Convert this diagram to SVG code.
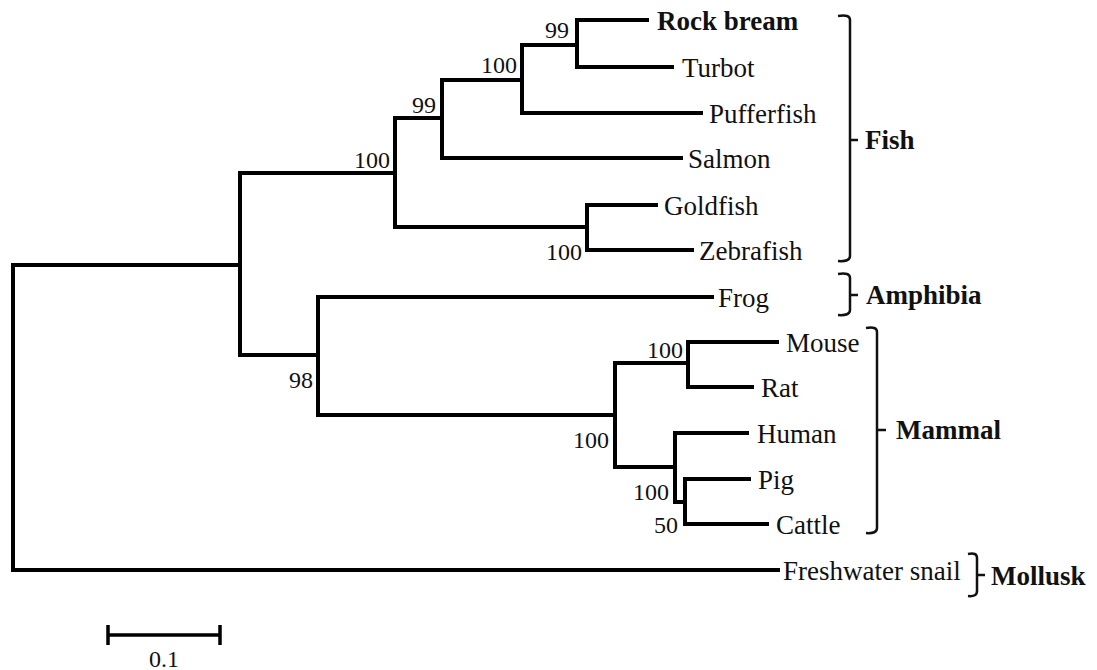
<svg xmlns="http://www.w3.org/2000/svg" width="1097" height="670" viewBox="0 0 1097 670">
<style>
.br{fill:none;stroke:#000;stroke-width:4;stroke-linejoin:miter;stroke-linecap:square}
.bk{fill:none;stroke:#111;stroke-width:2.5;stroke-linejoin:round}
.lf{font-family:"Liberation Serif","Times New Roman",serif;font-size:27px;fill:#111}
.gp{font-family:"Liberation Serif","Times New Roman",serif;font-size:27px;font-weight:bold;fill:#111}
.bs{font-family:"Liberation Serif","Times New Roman",serif;font-size:24px;fill:#111;text-anchor:end}
</style>
<rect width="1097" height="670" fill="#fff"/>
<g id="connectors">
<path class="br" d="M240 265 H13 V570 H778"/>
<path class="br" d="M395 173 H240 V355 H318"/>
<path class="br" d="M442 118 H395 V227 H587"/>
<path class="br" d="M522 80 H442 V158 H681"/>
<path class="br" d="M577 45 H522 V113 H701"/>
<path class="br" d="M647 20 H577 V67 H672"/>
<path class="br" d="M656 205 H587 V250 H692"/>
<path class="br" d="M712 297 H318 V415 H615"/>
<path class="br" d="M688 363 H615 V467 H675"/>
<path class="br" d="M777 342 H688 V387 H752"/>
<path class="br" d="M747 433 H675 V502 H685"/>
<path class="br" d="M749 479 H685 V524 H767"/>
</g>
<g id="node-rockbream"><text class="gp" x="657" y="30">Rock bream</text></g>
<g id="node-turbot"><text class="lf" x="682" y="77">Turbot</text></g>
<g id="node-pufferfish"><text class="lf" x="709" y="123">Pufferfish</text></g>
<g id="node-salmon"><text class="lf" x="688" y="168">Salmon</text></g>
<g id="node-goldfish"><text class="lf" x="664" y="215">Goldfish</text></g>
<g id="node-zebrafish"><text class="lf" x="699" y="260">Zebrafish</text></g>
<g id="node-frog"><text class="lf" x="718" y="307">Frog</text></g>
<g id="node-mouse"><text class="lf" x="786" y="352">Mouse</text></g>
<g id="node-rat"><text class="lf" x="761" y="397">Rat</text></g>
<g id="node-human"><text class="lf" x="757" y="443">Human</text></g>
<g id="node-pig"><text class="lf" x="758" y="489">Pig</text></g>
<g id="node-cattle"><text class="lf" x="776" y="534">Cattle</text></g>
<g id="node-snail"><text class="lf" x="783" y="580">Freshwater snail</text></g>
<g id="bootstrap">
<text class="bs" x="569" y="38">99</text>
<text class="bs" x="517" y="73">100</text>
<text class="bs" x="436" y="113">99</text>
<text class="bs" x="390" y="168">100</text>
<text class="bs" x="582" y="260">100</text>
<text class="bs" x="313" y="388">98</text>
<text class="bs" x="683" y="358">100</text>
<text class="bs" x="609" y="448">100</text>
<text class="bs" x="669" y="500">100</text>
<text class="bs" x="678" y="533">50</text>
</g>
<g id="group-fish">
<path class="bk" d="M838 16 Q850 14 850 20 V256 Q850 262 838 261 M850 140 H858"/>
<text class="gp" x="865" y="149">Fish</text>
</g>
<g id="group-amphibia">
<path class="bk" d="M838 274 Q850 272 850 278 V310 Q850 316 838 315 M850 295 H858"/>
<text class="gp" x="866" y="304">Amphibia</text>
</g>
<g id="group-mammal">
<path class="bk" d="M866 328 Q877 326 877 332 V528 Q877 534 866 533 M877 430 H886"/>
<text class="gp" x="896" y="439">Mammal</text>
</g>
<g id="group-mollusk">
<path class="bk" d="M968 554 Q977 552 977 558 V591 Q977 597 968 596 M977 575 H985"/>
<text class="gp" x="991" y="585">Mollusk</text>
</g>
<g id="scale">
<path fill="none" stroke="#000" stroke-width="3.5" d="M108 635 H220 M108 625 V645 M220 625 V645"/>
<text class="lf" style="font-size:24px" x="164" y="667" text-anchor="middle">0.1</text>
</g>
</svg>
